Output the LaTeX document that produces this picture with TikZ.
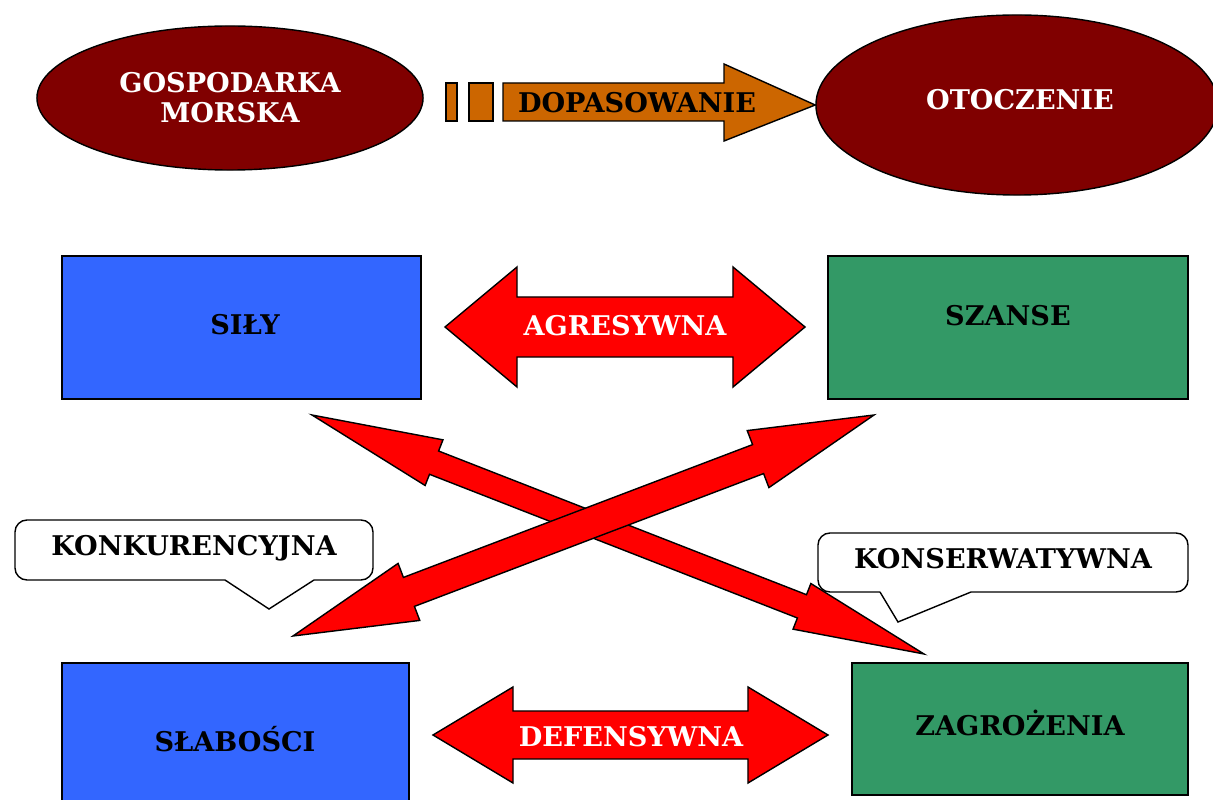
\documentclass[tikz,border=0pt]{standalone}
\usepackage{fontspec}
\setmainfont{DejaVu Serif}
\usetikzlibrary{shapes.geometric,calc}

\definecolor{bordo}{HTML}{800000}
\definecolor{niebieski}{HTML}{3366FF}
\definecolor{zielony}{HTML}{339966}
\definecolor{pomarancz}{HTML}{CC6600}

\tikzset{
  napis/.style={font=\bfseries\fontsize{19.3}{21.5}\selectfont, inner sep=0pt, align=center},
  elipsa/.style={ellipse, draw, line width=1pt, fill=bordo, text=white},
  pole/.style={rectangle, draw, line width=1pt, inner sep=0pt},
  dymek/.style={draw, fill=white, line width=1pt, line join=miter},
  blok/.style={draw, line width=1pt, line join=miter},
}

% strzala dwustronna: koniec, koniec, dlugosc grotu, pol szerokosci grotu, pol szerokosci trzonu
\newcommand{\strzala}[5]{%
  \coordinate (h1) at ($(#1)!#3!(#2)$);
  \coordinate (h2) at ($(#2)!#3!(#1)$);
  \draw[blok, fill=red] (#1)
    -- ($(h1)!#4!90:(#2)$) -- ($(h1)!#5!90:(#2)$)
    -- ($(h2)!#5!-90:(#1)$) -- ($(h2)!#4!-90:(#1)$)
    -- (#2)
    -- ($(h2)!#4!90:(#1)$) -- ($(h2)!#5!90:(#1)$)
    -- ($(h1)!#5!-90:(#2)$) -- ($(h1)!#4!-90:(#2)$) -- cycle;}

\begin{document}
\begin{tikzpicture}[x=0.025cm, y=-0.025cm]
\useasboundingbox (0,0) rectangle (1213,800);

\node[elipsa, napis, minimum width=9.65cm, minimum height=3.6cm] (gospodarka) at (230,98) {GOSPODARKA\\MORSKA};
\node[elipsa, minimum width=10.05cm, minimum height=4.5cm] (otoczenie) at (1017,105) {};
\node[napis, text=white] (otoczenie-napis) at (1020,100) {OTOCZENIE};

\draw[blok, fill=pomarancz] (446,83) rectangle (457,121);
\draw[blok, fill=pomarancz] (469,83) rectangle (493,121);
\draw[blok, fill=pomarancz] (503,83) -- (724,83) -- (724,64) -- (otoczenie.west) -- (724,141) -- (724,121) -- (503,121) -- cycle;
\node[napis] (dopasowanie) at (637,103) {DOPASOWANIE};

\node[pole, fill=niebieski, minimum width=8.975cm, minimum height=3.575cm] (sily) at (241.5,327.5) {};
\node[napis] (sily-napis) at (245,325) {SIŁY};
\node[pole, fill=zielony, minimum width=9cm, minimum height=3.575cm] (szanse) at (1008,327.5) {};
\node[napis] (szanse-napis) at (1008,316) {SZANSE};
\node[pole, fill=niebieski, minimum width=8.675cm, minimum height=3.75cm] (slabosci) at (235.5,738) {};
\node[napis] (slabosci-napis) at (235,739) {SŁABOŚCI};
\node[pole, fill=zielony, minimum width=8.4cm, minimum height=3.3cm] (zagrozenia) at (1020,729) {};
\node[napis] (zagrozenia-napis) at (1020,723) {ZAGROŻENIA};

\coordinate (agr-l) at (445,327);
\coordinate (agr-p) at (805,327);
\strzala{agr-l}{agr-p}{1.8cm}{1.5cm}{0.75cm}
\node[napis, text=white] (agresywna) at (625,326) {AGRESYWNA};

\coordinate (def-l) at (433,735);
\coordinate (def-p) at (828,735);
\strzala{def-l}{def-p}{2cm}{1.2cm}{0.6cm}
\node[napis, text=white] (defensywna) at (631,737) {DEFENSYWNA};

\draw[dymek, rounded corners=0.3cm] (225,580) -- (15,580) -- (15,520) -- (373,520) -- (373,580) -- (314,580);
\draw[dymek] (314,580) -- (269,609) -- (225,580);
\node[napis] (konkurencyjna) at (194,548) {KONKURENCYJNA};

\draw[dymek, rounded corners=0.3cm] (880,592) -- (818,592) -- (818,533) -- (1188,533) -- (1188,592) -- (971,592);
\draw[dymek] (971,592) -- (898,622) -- (880,592);
\node[napis] (konserwatywna) at (1003,559) {KONSERWATYWNA};

\coordinate (a1) at (312,415);
\coordinate (a2) at (924,654);
\strzala{a1}{a2}{3.275cm}{0.6125cm}{0.3125cm}

\coordinate (b1) at (293,636);
\coordinate (b2) at (874,415);
\strzala{b1}{b2}{3.1cm}{0.7625cm}{0.3875cm}
\end{tikzpicture}
\end{document}
